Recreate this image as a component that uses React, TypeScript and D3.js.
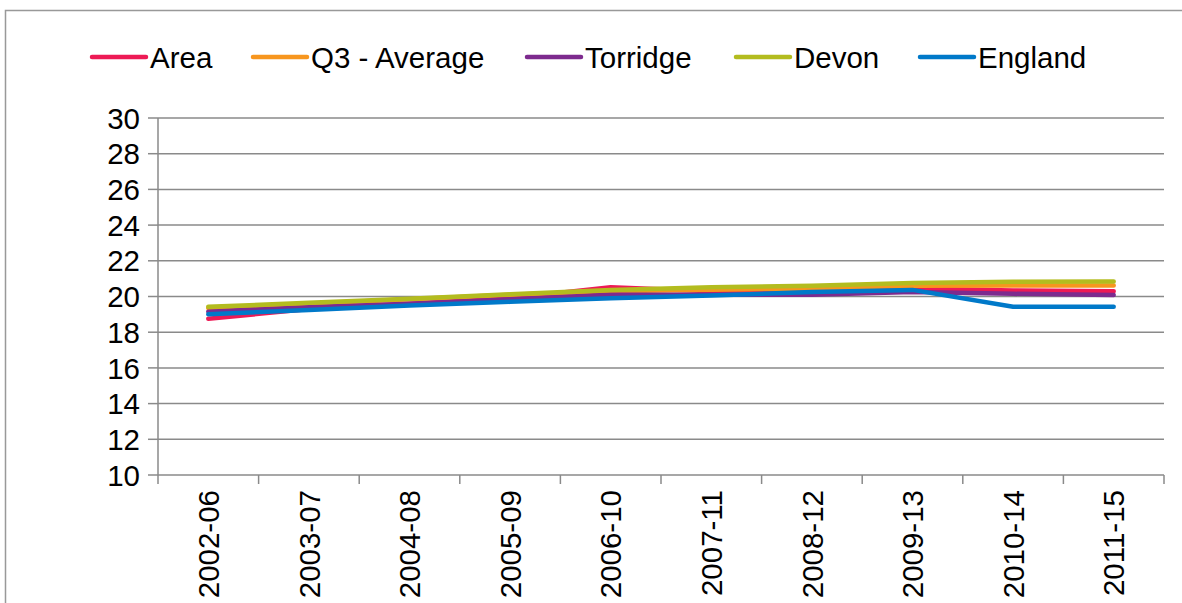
import React from "react";
import * as d3 from "d3";

const categories = ["2002-06","2003-07","2004-08","2005-09","2006-10","2007-11","2008-12","2009-13","2010-14","2011-15"];
const areaValues = [18.75, 19.3, 19.6, 19.9, 20.52, 20.3, 20.35, 20.45, 20.34, 20.3];
const q3Values = [19.35, 19.6, 19.85, 20.1, 20.3, 20.38, 20.45, 20.6, 20.62, 20.62];
const torridgeValues = [19.15, 19.4, 19.6, 19.85, 20.1, 20.1, 20.1, 20.25, 20.15, 20.08];
const devonValues = [19.42, 19.65, 19.88, 20.12, 20.37, 20.52, 20.6, 20.75, 20.82, 20.84];
const englandValues = [19.0, 19.25, 19.5, 19.7, 19.9, 20.05, 20.25, 20.37, 19.43, 19.42];
const yTicks = [10, 12, 14, 16, 18, 20, 22, 24, 26, 28, 30];

const seriesNames = ["Area", "Q3 - Average", "Torridge", "Devon", "England"];
const seriesColors = ["#ED1A55", "#F7961E", "#7D2B8E", "#B3BC1F", "#0079C9"];
const seriesData = [areaValues, q3Values, torridgeValues, devonValues, englandValues];

const W = 1182, H = 603;
const left = 158, right = 1164, top = 118, bottom = 475;
const font = "'Liberation Sans', Arial, sans-serif";
const gridColor = "#8a8a8a";
const fs = 29.5;

export default function App() {
  const x = d3.scaleBand<string>().domain(categories).range([left, right]).paddingInner(0).paddingOuter(0);
  const y = d3.scaleLinear().domain([10, 30]).range([bottom, top]);
  const line = d3.line<number>()
    .x((_, i) => (x(categories[i]) as number) + x.bandwidth() / 2)
    .y(d => y(d));

  const legendLineX = [92, 253, 527, 736, 920];

  return (
    <div style={{ position: "absolute", left: 0, top: 0 }}>
      <svg width={W} height={H} style={{ display: "block", background: "#fff" }}>
        <rect x={5.5} y={10.5} width={1300} height={700} fill="#fff" stroke="#999" strokeWidth={1.5} />
        {yTicks.filter(t => t !== 10).map(t => (
          <line key={t} x1={left} x2={right} y1={y(t)} y2={y(t)} stroke={gridColor} strokeWidth={1.5} />
        ))}
        <line x1={left} x2={left} y1={top} y2={bottom + 9} stroke={gridColor} strokeWidth={1.5} />
        {yTicks.map(t => (
          <line key={"yt" + t} x1={left - 10} x2={left} y1={y(t)} y2={y(t)} stroke={gridColor} strokeWidth={1.5} />
        ))}
        {yTicks.map(t => (
          <text key={"yl" + t} x={left - 18} y={y(t)} dy="0.36em" textAnchor="end" fontFamily={font} fontSize={fs} fill="#000">{t}</text>
        ))}
        <line x1={left} x2={right} y1={bottom} y2={bottom} stroke={gridColor} strokeWidth={1.5} />
        {categories.map(c => (
          <line key={"xt" + c} x1={(x(c) as number) + x.bandwidth()} x2={(x(c) as number) + x.bandwidth()} y1={bottom} y2={bottom + 9} stroke={gridColor} strokeWidth={1.5} />
        ))}
        {categories.map(c => {
          const cx = (x(c) as number) + x.bandwidth() / 2;
          return (
            <text key={"xl" + c} transform={`translate(${cx},${490}) rotate(-90)`} dy="0.36em" textAnchor="end" fontFamily={font} fontSize={fs} fill="#000">{c}</text>
          );
        })}
        {seriesData.map((vals, i) => (
          <path key={seriesNames[i]} d={line(vals) || ""} fill="none" stroke={seriesColors[i]} strokeWidth={4.5} strokeLinejoin="round" strokeLinecap="round" />
        ))}
        {seriesNames.map((n, i) => (
          <g key={"lg" + n}>
            <line x1={legendLineX[i]} x2={legendLineX[i] + 54} y1={57} y2={57} stroke={seriesColors[i]} strokeWidth={4.5} strokeLinecap="round" />
            <text x={legendLineX[i] + 58} y={57} dy="0.36em" fontFamily={font} fontSize={fs} fill="#000">{n}</text>
          </g>
        ))}
      </svg>
    </div>
  );
}
